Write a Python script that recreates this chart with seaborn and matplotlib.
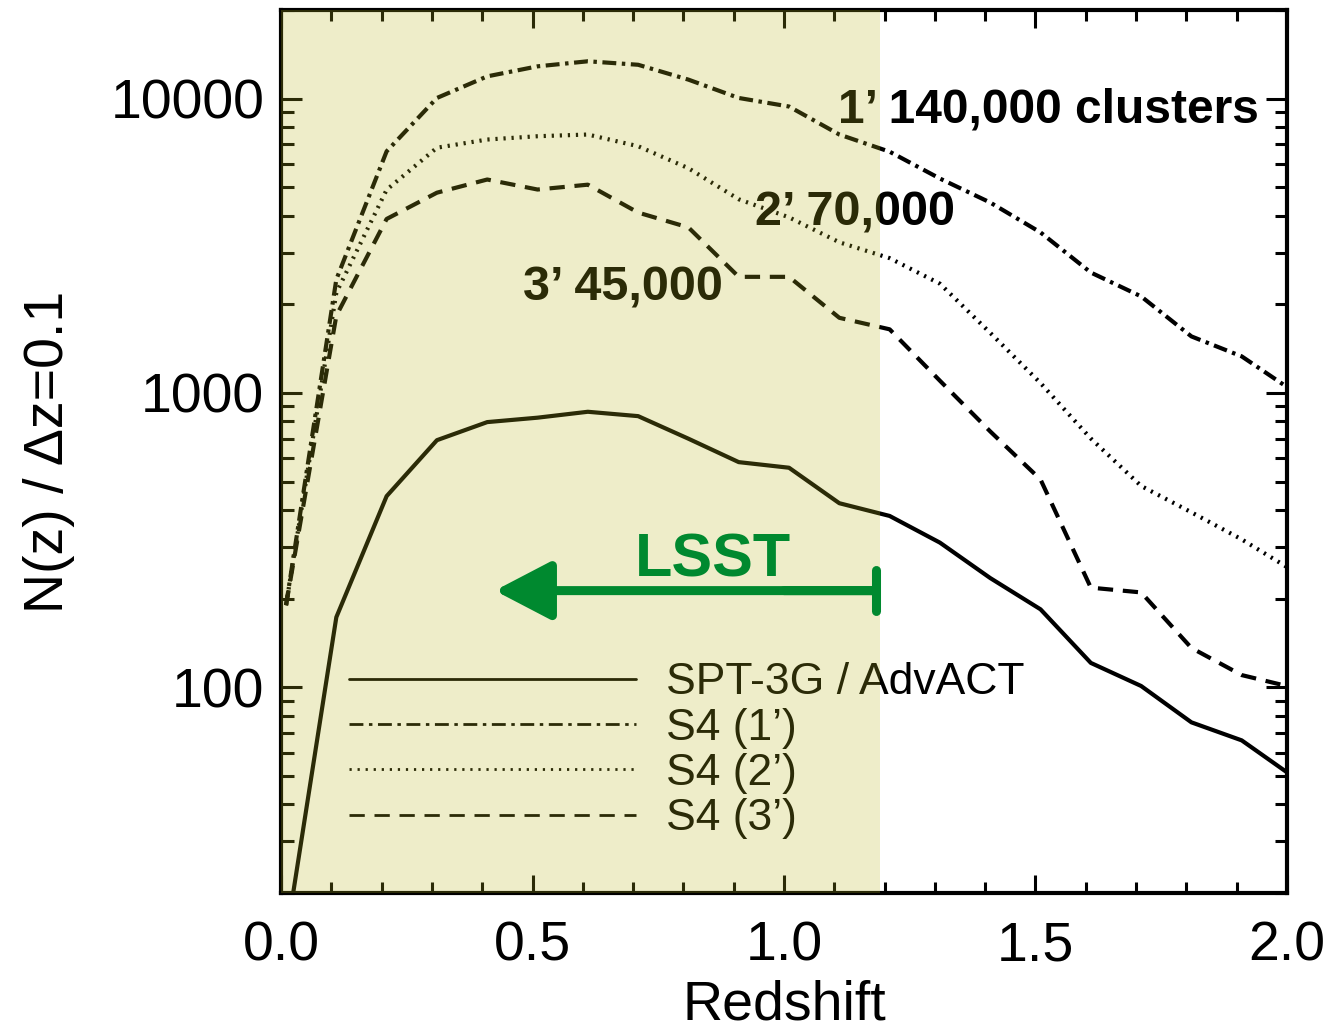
import numpy as np
import pandas as pd
import matplotlib
matplotlib.use("Agg")
import matplotlib.pyplot as plt
import matplotlib.ticker as mticker
from matplotlib.patches import FancyArrowPatch
import seaborn as sns

# ---------------- data ----------------
redshift = [0.01, 0.11, 0.21, 0.31, 0.41, 0.51, 0.61, 0.71, 0.81, 0.91, 1.01,
            1.11, 1.21, 1.31, 1.41, 1.51, 1.61, 1.71, 1.81, 1.91, 2.01]
spt3g = [14, 173, 446, 691, 796, 824, 863, 834, 699, 582, 557,
         422, 382, 310, 235, 184, 121, 101, 76, 66, 50]
s4_1 = [190, 2430, 6620, 10050, 11900, 12870, 13390, 13030, 11600, 10050, 9400,
        7550, 6600, 5350, 4435, 3510, 2565, 2128, 1556, 1331, 1020]
s4_2 = [190, 2190, 4900, 6810, 7260, 7450, 7550, 6890, 5800, 4550, 3950,
        3250, 2870, 2350, 1600, 1080, 700, 483, 393, 318, 250]
s4_3 = [190, 1830, 3900, 4790, 5310, 4910, 5100, 4100, 3650, 2480, 2480,
        1800, 1645, 1100, 740, 508, 218, 210, 136, 110, 100]

series_labels = ["SPT-3G / AdvACT", "S4 (1\u2019)", "S4 (2\u2019)", "S4 (3\u2019)"]
annot_texts = ["1\u2019 140,000 clusters", "2\u2019 70,000", "3\u2019 45,000"]
lsst_label = "LSST"
lsst_zmax = 1.19
xlabel = "Redshift"
ylabel = "N(z) / \u0394z=0.1"

# ---------------- style ----------------
sns.set_style("ticks")
plt.rcParams["font.family"] = ["Liberation Sans", "DejaVu Sans"]
plt.rcParams["lines.scale_dashes"] = False
for key in ["text.color", "axes.labelcolor", "xtick.color", "ytick.color",
            "xtick.labelcolor", "ytick.labelcolor"]:
    plt.rcParams[key] = "black"

fig = plt.figure(figsize=(13.31, 10.33), dpi=100)
ax = fig.add_axes([281 / 1331, 1 - 893 / 1033, (1287 - 281) / 1331, (893 - 10) / 1033])

ink = "black"
styles = [
    dict(linestyle="-"),
    dict(linestyle=(0, (10, 4, 2.5, 4))),
    dict(linestyle=(0, (1.6, 4.2))),
    dict(linestyle=(0, (11, 7))),
]
all_y = [spt3g, s4_1, s4_2, s4_3]
for lab, yv, st in zip(series_labels, all_y, styles):
    df = pd.DataFrame({"z": redshift, "n": yv})
    sns.lineplot(data=df, x="z", y="n", ax=ax, color=ink, lw=3.0, label=lab,
                 zorder=3, **st)

ax.set_yscale("log")
ax.set_xlim(0, 2.0)
ax.set_ylim(20, 20000)

ax.xaxis.set_major_locator(mticker.MultipleLocator(0.5))
ax.xaxis.set_minor_locator(mticker.MultipleLocator(0.1))
ax.xaxis.set_major_formatter(mticker.FormatStrFormatter("%.1f"))
ax.yaxis.set_major_locator(mticker.LogLocator(base=10, numticks=10))
ax.yaxis.set_minor_locator(mticker.LogLocator(base=10, subs=np.arange(2, 10), numticks=20))
ax.yaxis.set_major_formatter(mticker.FuncFormatter(lambda v, p: f"{int(round(v))}"))
ax.yaxis.set_minor_formatter(mticker.NullFormatter())

ax.tick_params(which="both", direction="in", top=True, right=True, color=ink,
               labelcolor=ink, width=2.2)
ax.tick_params(axis="y", which="major", length=15, labelsize=40, pad=12)
ax.tick_params(axis="y", which="minor", length=9)
ax.tick_params(axis="x", which="major", length=13, labelsize=40, pad=20)
ax.tick_params(axis="x", which="minor", length=8)
for sp in ax.spines.values():
    sp.set_linewidth(3)
    sp.set_color(ink)

ax.set_xlabel(xlabel, fontsize=40, color=ink)
ax.set_ylabel(ylabel, fontsize=40, color=ink)
ax.xaxis.set_label_coords(0.5, -0.098)
ax.yaxis.set_label_coords(-0.205, 0.5)

# annotations
ax.text(1.108, 8280, annot_texts[0], fontsize=34.5, fontweight="bold", color=ink,
        ha="left", va="baseline", zorder=4)
ax.text(0.943, 3705, annot_texts[1], fontsize=35, fontweight="bold", color=ink,
        ha="left", va="baseline", zorder=4)
ax.text(0.482, 2060, annot_texts[2], fontsize=35, fontweight="bold", color=ink,
        ha="left", va="baseline", zorder=4)

# legend
leg = ax.legend(loc="upper left", bbox_to_anchor=(0.068, 0.2615), frameon=False,
                fontsize=32, handlelength=6.45, handletextpad=0.68,
                labelspacing=0.10, borderpad=0, borderaxespad=0)
for l in leg.get_lines():
    l.set_linewidth(2.0)
for t in leg.get_texts():
    t.set_color(ink)
leg.set_zorder(4)

# shaded LSST region (overlay)
ax.axvspan(0, lsst_zmax, color=(0.72, 0.71, 0.12), alpha=0.24, lw=0, zorder=6)

# LSST arrow + label
green = "#00892F"
arr = FancyArrowPatch((1.182, 213), (0.425, 213),
                      arrowstyle="-|>,head_length=1.15,head_width=0.6",
                      mutation_scale=30, lw=6.5, color=green, shrinkA=0, shrinkB=0,
                      zorder=8)
ax.add_patch(arr)
bar = FancyArrowPatch((1.182, 213), (1.0, 213),
                      arrowstyle="|-|,widthA=0.5,widthB=0",
                      mutation_scale=30, lw=6.5, color=green, shrinkA=0, shrinkB=0,
                      zorder=8)
ax.add_patch(bar)
ax.text(0.704, 237, lsst_label, fontsize=44, fontweight="bold", color=green,
        ha="left", va="baseline", zorder=8)

fig.savefig("out.png", dpi=100)
